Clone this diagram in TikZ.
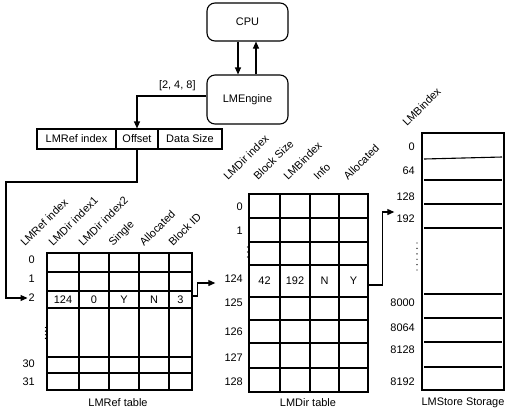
\documentclass[tikz,border=0pt]{standalone}
\usepackage{fontspec}
\setmainfont{Liberation Sans}
\usetikzlibrary{arrows.meta}

\begin{document}
\begin{tikzpicture}[x=1bp,y=-1bp,
  font=\fontsize{11}{13}\selectfont,
  blk/.style={draw,line width=1.1bp,rounded corners=8bp,minimum width=81bp},
  fld/.style={draw,line width=1.1bp,minimum height=20bp,inner sep=0pt},
  val/.style={inner sep=0pt},
  lbl/.style={anchor=east,inner sep=0pt},
  hd/.style={rotate=45,anchor=base west,inner sep=0pt},
  ln/.style={line width=1.1bp},
  arr/.style={-{Triangle[length=7bp,width=6bp]},line width=1.1bp}
]
\useasboundingbox (0,0) rectangle (511,415);

% processor and engine
\node[blk,minimum height=38bp] (cpu) at (247.5,22) {CPU};
\node[blk,minimum height=49bp] (lme) at (247.5,99.5) {LMEngine};
\draw[arr] ([xshift=-9.5bp]cpu.south) -- ([xshift=-9.5bp]lme.north);
\draw[arr] ([xshift=8.5bp]lme.north) -- ([xshift=8.5bp]cpu.south);

% request fields
\node[fld,minimum width=79bp] (fidx) at (76.5,139) {LMRef index};
\node[fld,minimum width=42bp] (foff) at (137,139) {Offset};
\node[fld,minimum width=64bp] (fsz) at (190,139) {Data Size};
\draw[arr] ([yshift=3.5bp]lme.west) -| (foff.north)
  node[pos=0.21,above=1bp] {[2, 4, 8]};

% LMRef table
\draw[ln] (47,253) rectangle (192,390);
\foreach \x in {79,109,139,169}
  \draw[ln] (\x,253) -- (\x,390);
\foreach \y in {272,291,308,357,373}
  \draw[ln] (47,\y) -- (192,\y);
\foreach \x/\t [count=\i] in {25/LMRef index,53/LMDir index1,83/LMDir index2,
                              113/Single,144/Allocated,173/Block ID}
  \node[hd] (rh\i) at (\x,247) {\t};
\foreach \y/\t in {260/0,279/1,298/2,364/30,382/31}
  \node[lbl] (r\t) at (35,\y) {\t};
\foreach \x/\w/\t [count=\i] in {63/32/124,94/30/0,124/30/Y,154/30/N,180.5/23/3}
  \node[val,minimum width=\w bp,minimum height=17bp] (a\i) at (\x,299.5) {\t};
\foreach \k in {0,...,3}
  \fill (45.5,327.5+3.6*\k) circle (0.7);
\node (lref) at (118,403) {LMRef table};

\coordinate (turn1) at (6,182);
\draw[arr] (foff.south) |- (turn1) |- ([xshift=-1bp]r2.west);

% LMDir table
\draw[ln] (249,194) rectangle (368,392);
\foreach \x in {280,310,339}
  \draw[ln] (\x,194) -- (\x,392);
\foreach \y in {218,242,265,297,320,343,368}
  \draw[ln] (249,\y) -- (368,\y);
\foreach \x/\t [count=\i] in {228/LMDir index,258/Block Size,288/LMBindex,
                              318/Info,348/Allocated}
  \node[hd] (dh\i) at (\x,181) {\t};
\foreach \y/\t in {207/0,231/1,279/124,303/125,332/126,358/127,382/128}
  \node[lbl] (d\t) at (243,\y) {\t};
\foreach \x/\t [count=\i] in {264.5/42,295/192,324.5/N,353.5/Y}
  \node[val,minimum width=29bp,minimum height=32bp] (b\i) at (\x,281) {\t};
\foreach \k in {0,...,2}
  \fill (247.5,247+5*\k) circle (0.6);
\node (ldir) at (308,403) {LMDir table};

\draw[arr] ([yshift=3.5bp]a5.east) -- ++(5,0)
  |- ([xshift=-9bp,yshift=-4bp]d124.west);

% LMStore storage
\draw[ln] (422,133) rectangle (504,390);
\draw[ln] (424,159) -- (502,157);
\foreach \y in {180,204,228,294,318,342,367}
  \draw[ln] (424,\y) -- (502,\y);
\node[hd] (sh) at (407,127) {LMBindex};
\foreach \y/\t in {147/0,171/64,197/128,219/192,303/8000,328/8064,350/8128,382/8192}
  \node[lbl] (s\t) at (415,\y) {\t};
\foreach \k in {0,...,5}
  \fill (417,243+5.4*\k) circle (0.7);
\node (lsto) at (463,403) {LMStore Storage};

\draw[arr] ([yshift=-4bp]b4.east) -- ++(14,0)
  |- ([xshift=-2bp,yshift=7bp]s192.west);
\end{tikzpicture}
\end{document}
